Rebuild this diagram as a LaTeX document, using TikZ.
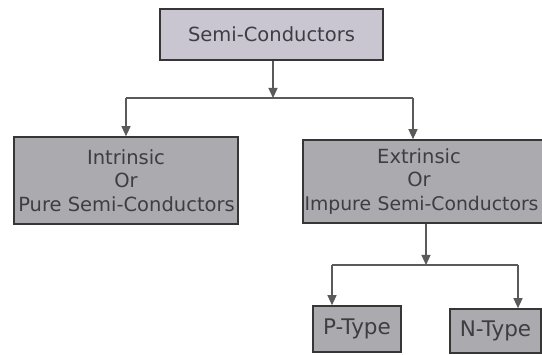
\documentclass[tikz,border=0pt]{standalone}
\usepackage{fontspec}
\setmainfont{DejaVu Sans}
\usetikzlibrary{arrows.meta}
\definecolor{topfill}{HTML}{C9C6D2}
\definecolor{boxfill}{HTML}{ABABAF}
\definecolor{edge}{HTML}{363636}
\definecolor{txt}{HTML}{3E3E42}
\definecolor{wire}{HTML}{5A5A5A}
\tikzset{
  box/.style={draw=edge, line width=1.6pt, fill=boxfill, inner sep=0pt, align=center, text=txt,
    font=\fontsize{19.5}{23.5}\selectfont},
  topbox/.style={box, fill=topfill, font=\fontsize{19.5}{22}\selectfont},
  small/.style={box, font=\fontsize{21.5}{24}\selectfont},
  wireline/.style={draw=wire, line width=1.2pt},
  arr/.style={wireline, -{Triangle[width=9pt,length=10pt]}}
}
\begin{document}
\begin{tikzpicture}[x=1pt,y=-1pt]
\useasboundingbox[fill=white] (0,0) rectangle (542,355);
\node[topbox, minimum width=223pt, minimum height=51pt] (sc) at (271.5,34.5) {Semi-Conductors};
\node[box, minimum width=224pt, minimum height=87pt] (in) at (126,180.5) {Intrinsic\\Or\\\makebox[0pt]{\hspace*{1pt}Pure Semi-Conductors}};
\node[box, minimum width=240pt, minimum height=83pt, text width=240pt] (ex) at (423,181.5) {\hspace*{-8pt}Extrinsic\\\hspace*{-8pt}Or\\\makebox[240pt][l]{\hspace*{1.5pt}\fontsize{18.8}{23.5}\selectfont Impure Semi-Conductors}};
\node[small, minimum width=88pt, minimum height=46pt] (p) at (357,329) {P-Type};
\node[small, minimum width=91pt, minimum height=44pt] (n) at (495.5,331) {N-Type};
\coordinate (j1) at (273,98);
\coordinate (l1) at (126,98);
\coordinate (r1) at (413,98);
\coordinate (j2) at (426,265);
\coordinate (l2) at (332,265);
\coordinate (r2) at (518,265);
\draw[arr] (sc.south -| j1) -- (j1);
\draw[wireline] (l1) -- (r1);
\draw[arr] (l1) -- (in.north -| l1);
\draw[arr] (r1) -- (ex.north -| r1);
\draw[arr] (ex.south -| j2) -- (j2);
\draw[wireline] (l2) -- (r2);
\draw[arr] (l2) -- (p.north -| l2);
\draw[arr] (r2) -- (n.north -| r2);
\end{tikzpicture}
\end{document}
